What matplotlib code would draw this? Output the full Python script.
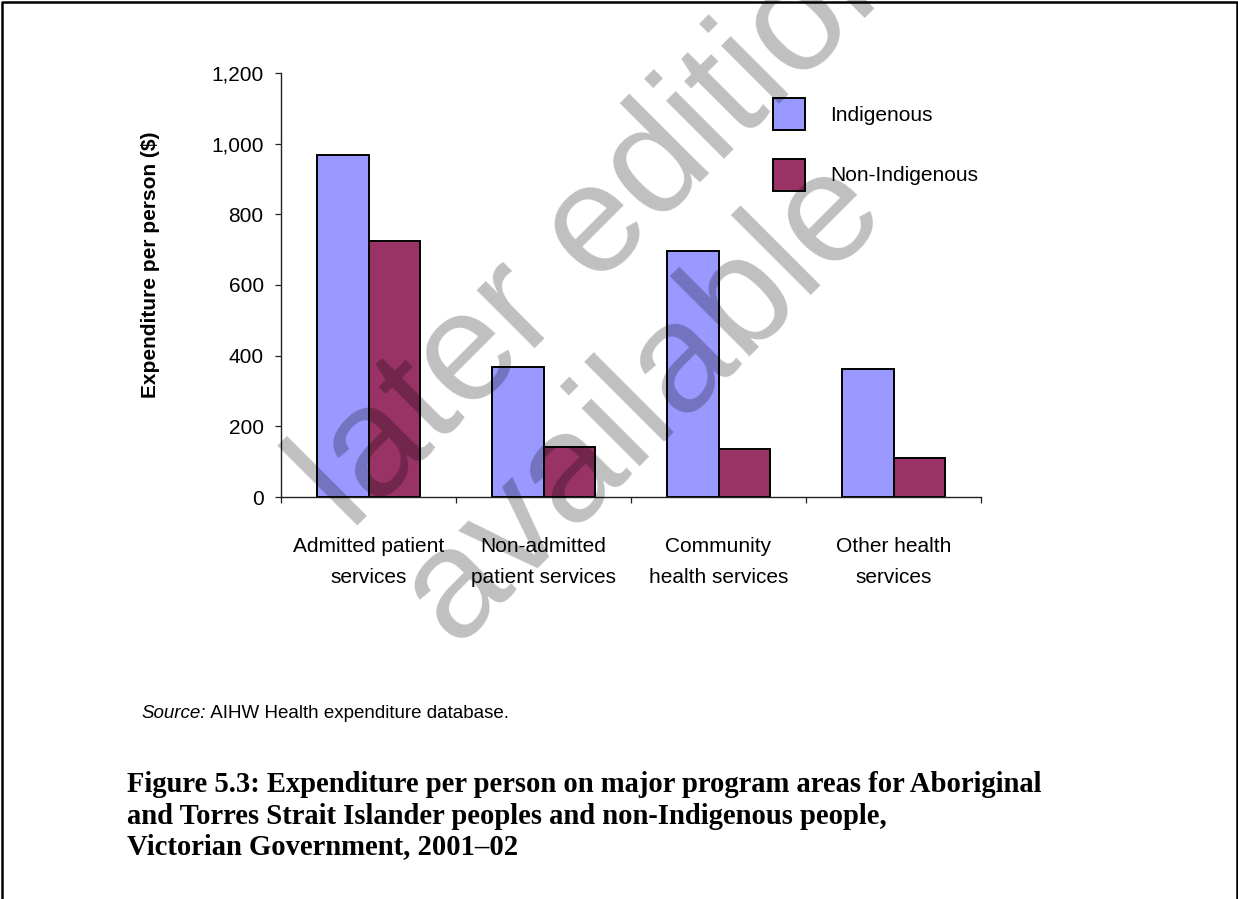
import matplotlib
matplotlib.use("Agg")
import matplotlib.pyplot as plt
import numpy as np
from matplotlib.lines import Line2D

W, H = 1238, 899

categories = [
    "Admitted patient\nservices",
    "Non-admitted\npatient services",
    "Community\nhealth services",
    "Other health\nservices",
]
indigenous = [968, 368, 696, 362]
non_indigenous = [724, 142, 137, 109]
series_names = ["Indigenous", "Non-Indigenous"]
y_ticks = [0, 200, 400, 600, 800, 1000, 1200]
y_label = "Expenditure per person ($)"
source_label = "Source:"
source_text = " AIHW Health expenditure database."
caption_lines = [
    "Figure 5.3: Expenditure per person on major program areas for Aboriginal",
    "and Torres Strait Islander peoples and non-Indigenous people,",
    "Victorian Government, 2001\u201302",
]
watermark_lines = ["later edition", "available"]

BLUE = "#9999FF"
PLUM = "#993366"

plt.rcParams["font.family"] = ["Liberation Sans", "DejaVu Sans"]


def fx(px):
    return px / W


def fy(py):
    return 1 - py / H


fig = plt.figure(figsize=(W / 100, H / 100), dpi=100)
ax = fig.add_axes([fx(281), fy(497), 700 / W, 424 / H])

x = np.arange(len(categories))
w = 0.294
ax.bar(x - w / 2, indigenous, w, color=BLUE, edgecolor="black",
       linewidth=1.4, label=series_names[0])
ax.bar(x + w / 2, non_indigenous, w, color=PLUM, edgecolor="black",
       linewidth=1.4, label=series_names[1])

ax.set_xlim(-0.5, len(categories) - 0.5)
ax.set_ylim(0, 1200)

for side in ("top", "right"):
    ax.spines[side].set_visible(False)
for side in ("left", "bottom"):
    ax.spines[side].set_color("#222222")
    ax.spines[side].set_linewidth(1.0)

ax.set_yticks(y_ticks)
ax.set_yticklabels([f"{v:,}" for v in y_ticks])
ax.tick_params(axis="y", length=4.5, width=0.9, pad=8, labelsize=15,
               color="#222222")

ax.set_xticks(x)
ax.set_xticklabels(categories, linespacing=1.75)
ax.set_xticks(np.arange(-0.5, len(categories)), minor=True)
ax.tick_params(axis="x", which="major", length=0, pad=29, labelsize=15)
ax.tick_params(axis="x", which="minor", length=4.5, width=0.9,
               color="#222222")

fig.text(fx(150), fy(265), y_label, rotation=90, ha="center", va="center",
         fontsize=15, fontweight="bold")

ax.legend(loc="upper left", bbox_to_anchor=(fx(773), fy(98)),
          bbox_transform=fig.transFigure, frameon=False, fontsize=15,
          handlelength=1.54, handleheight=1.99, handletextpad=1.2,
          labelspacing=1.37, borderpad=0, borderaxespad=0)

# source note: italic label followed by plain text
renderer = fig.canvas.get_renderer()
src = fig.text(fx(141), fy(713), source_label, style="italic",
               fontsize=13.5, va="center")
src_end = src.get_window_extent(renderer).x1
fig.text(src_end / W, fy(713), source_text, fontsize=13.5, va="center")

# caption, sized so the first line spans its column
probe = fig.text(0, 0, caption_lines[0], fontsize=18,
                 family=["Liberation Serif"], fontweight="bold")
size = 18 * 916 / probe.get_window_extent(renderer).width
probe.remove()
for i, line in enumerate(caption_lines):
    fig.text(fx(127), fy(785 + 31 * i), line, fontsize=size,
             family=["Liberation Serif"], fontweight="bold", va="center")

# diagonal watermark over everything
for (cx, cy), line in zip([(606, 220), (642, 400)], watermark_lines):
    fig.text(fx(cx), fy(cy), line, rotation=45, rotation_mode="anchor",
             ha="center", va="center", fontsize=112, color="black",
             alpha=0.25, zorder=10)

# page frame: top and sides
fig.add_artist(Line2D([fx(1.5), fx(1.5), fx(1236.5), fx(1236.5)],
                      [fy(899), fy(1.5), fy(1.5), fy(899)],
                      transform=fig.transFigure, color="black", lw=1.8))

fig.savefig("out.png", dpi=100)
